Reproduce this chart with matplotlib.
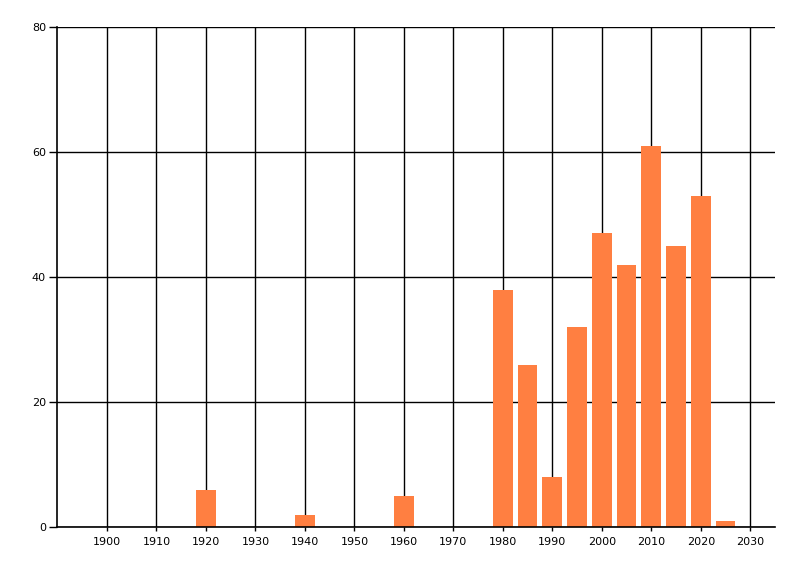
import matplotlib.pyplot as plt
import numpy as np

years = [1920, 1940, 1960, 1980, 1985, 1990, 1995, 2000, 2005, 2010, 2015, 2020, 2025]
counts = [6, 2, 5, 38, 26, 8, 32, 47, 42, 61, 45, 53, 1]
x_ticks = np.arange(1900, 2031, 10)
y_ticks = [0, 20, 40, 60, 80]

fig = plt.figure(figsize=(8, 5.76), dpi=100)
ax = fig.add_axes([57 / 800, 1 - 527 / 576, (775 - 57) / 800, 500 / 576])

ax.bar(years, counts, width=4, color='#ff7f41', zorder=2)

ax.set_xlim(1889.9, 2035)
ax.set_ylim(0, 80)
ax.set_xticks(x_ticks)
ax.set_yticks(y_ticks)
ax.grid(True, color='black', linewidth=1, zorder=0)
ax.set_axisbelow(True)

for s in ['top', 'right']:
    ax.spines[s].set_visible(False)
for s in ['left', 'bottom']:
    ax.spines[s].set_linewidth(1.2)

ax.tick_params(axis='y', length=6, width=1, labelsize=8, pad=2)
ax.tick_params(axis='x', length=3, width=1, labelsize=8, pad=4)

fig.savefig('out.png', dpi=100)
